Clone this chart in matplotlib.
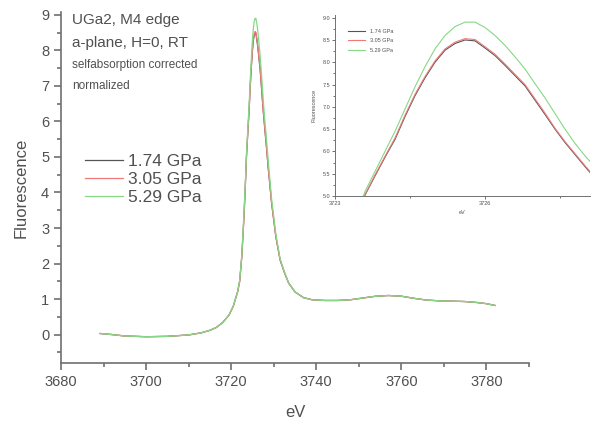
import numpy as np
import matplotlib
matplotlib.use("Agg")
import matplotlib.pyplot as plt
from matplotlib.ticker import MultipleLocator

plt.rcParams['font.family'] = ['Liberation Sans', 'DejaVu Sans']

# energy grid (eV) and fluorescence for the three pressures
energy = [3689.2, 3692, 3695, 3700, 3705, 3710, 3713, 3715, 3716.5, 3718,
          3719.5, 3720.5, 3721.5, 3722.0, 3722.5, 3723.0, 3723.3,
          3723.6, 3723.8, 3724.0, 3724.2, 3724.4, 3724.6, 3724.8, 3725.0, 3725.2, 3725.4,
          3725.6, 3725.8, 3726.0, 3726.2, 3726.4, 3726.6, 3726.8, 3727.0, 3727.2, 3727.4,
          3727.6, 3727.8, 3728.0, 3728.2,
          3728.7, 3729.5, 3730.5, 3731.5, 3732.5, 3733.5, 3735, 3737, 3739, 3742,
          3745, 3748, 3751, 3754, 3757, 3760, 3763, 3766, 3769, 3772,
          3775, 3778, 3780, 3782]
p174 = [0.03, 0.0, -0.04, -0.06, -0.05, -0.01, 0.05, 0.12, 0.2, 0.34,
        0.55, 0.8, 1.2, 1.5, 2.2, 3.3, 4.1,
        5.02, 5.45, 5.87, 6.27, 6.78, 7.25, 7.65, 8.0, 8.27, 8.42,
        8.5, 8.48, 8.32, 8.15, 7.93, 7.7, 7.47, 7.15, 6.83, 6.5,
        6.2, 5.93, 5.66, 5.4,
        4.7, 3.7, 2.75, 2.1, 1.75, 1.45, 1.2, 1.04, 0.98, 0.96,
        0.96, 0.98, 1.03, 1.08, 1.1, 1.08, 1.02, 0.97, 0.95, 0.94,
        0.93, 0.9, 0.87, 0.82]
p305 = [0.03, 0.0, -0.04, -0.06, -0.05, -0.01, 0.05, 0.12, 0.2, 0.34,
        0.55, 0.8, 1.2, 1.5, 2.2, 3.3, 4.1,
        5.03, 5.47, 5.89, 6.3, 6.81, 7.28, 7.68, 8.03, 8.3, 8.45,
        8.53, 8.51, 8.35, 8.18, 7.96, 7.73, 7.5, 7.18, 6.86, 6.52,
        6.22, 5.95, 5.68, 5.42,
        4.72, 3.71, 2.76, 2.1, 1.75, 1.45, 1.2, 1.04, 0.98, 0.96,
        0.96, 0.98, 1.03, 1.08, 1.1, 1.08, 1.02, 0.97, 0.95, 0.94,
        0.93, 0.9, 0.87, 0.82]
p529 = [0.03, 0.0, -0.04, -0.06, -0.05, -0.01, 0.05, 0.12, 0.2, 0.34,
        0.55, 0.8, 1.2, 1.52, 2.25, 3.4, 4.2,
        5.1, 5.55, 6.0, 6.45, 6.95, 7.45, 7.9, 8.3, 8.6, 8.8,
        8.9, 8.9, 8.78, 8.6, 8.38, 8.12, 7.85, 7.52, 7.2, 6.85,
        6.5, 6.18, 5.9, 5.65,
        4.9, 3.82, 2.82, 2.13, 1.77, 1.46, 1.2, 1.04, 0.98, 0.96,
        0.96, 0.98, 1.03, 1.08, 1.1, 1.08, 1.02, 0.97, 0.95, 0.94,
        0.93, 0.9, 0.87, 0.82]
labels = ['1.74 GPa', '3.05 GPa', '5.29 GPa']
colors = ['#555555', '#f07a7a', '#86d886']
series = [p174, p305, p529]

txt = '#505050'
spine = '#707070'

W, H = 598, 423
fig = plt.figure(figsize=(W / 100, H / 100), dpi=100)

def style_axes(ax, fs, tl, tw):
    for s in ['top', 'right']:
        ax.spines[s].set_visible(False)
    for s in ['left', 'bottom']:
        ax.spines[s].set_color(spine)
        ax.spines[s].set_linewidth(tw)
    ax.tick_params(which='major', direction='out', length=tl, width=tw, colors=spine,
                   labelcolor=txt, labelsize=fs)
    ax.tick_params(which='minor', direction='out', length=tl * 0.6, width=tw, colors=spine)

# main axes
ax = fig.add_axes([61 / W, 1 - 363 / H, (529 - 61) / W, (363 - 12) / H])
for y, lab, c in zip(series, labels, colors):
    ax.plot(energy, y, color=c, lw=0.9, label=lab)
ax.set_xlim(3680, 3790)
ax.set_ylim(-0.8, 9.08)
ax.xaxis.set_major_locator(MultipleLocator(20))
ax.xaxis.set_minor_locator(MultipleLocator(10))
ax.yaxis.set_major_locator(MultipleLocator(1))
ax.yaxis.set_minor_locator(MultipleLocator(0.5))
style_axes(ax, 10.5, 5, 1.2)
ax.set_xlabel('eV', fontsize=12, color=txt, labelpad=12)
ax.set_ylabel('Fluorescence', fontsize=12, color=txt, labelpad=9)

ax.legend(loc='upper left', bbox_to_anchor=(85 / W, 1 - 154 / H),
          bbox_transform=fig.transFigure, frameon=False, fontsize=12.5,
          handlelength=2.2, handletextpad=0.3, labelspacing=0.15,
          borderpad=0, borderaxespad=0, labelcolor=txt)

fig.text(72 / W, 1 - 20 / H, 'UGa2, M4 edge', fontsize=11, color=txt, va='center')
fig.text(72 / W, 1 - 43 / H, 'a-plane, H=0, RT', fontsize=11, color=txt, va='center')
fig.text(72 / W, 1 - 65 / H, 'selfabsorption corrected', fontsize=8.5, color=txt, va='center')
fig.text(72 / W, 1 - 86 / H, 'normalized', fontsize=8.5, color=txt, va='center')

# inset zoom on the white line
ins = fig.add_axes([335 / W, 1 - 196 / H, (590 - 335) / W, (196 - 15) / H])
for y, lab, c in zip(series, labels, colors):
    ins.plot(energy, y, color=c, lw=0.8, label=lab)
ins.set_xlim(3723, 3728.1)
ins.set_ylim(5.0, 9.06)
ins.xaxis.set_major_locator(MultipleLocator(3))
ins.xaxis.set_minor_locator(MultipleLocator(1.5))
ins.yaxis.set_major_locator(MultipleLocator(0.5))
ins.yaxis.set_minor_locator(MultipleLocator(0.25))
style_axes(ins, 4, 2, 0.7)
ins.tick_params(pad=1.5)
ins.set_xlabel('eV', fontsize=4, color=txt, labelpad=3)
ins.set_ylabel('Fluorescence', fontsize=4, color=txt, labelpad=4)
ins.legend(loc='upper left', bbox_to_anchor=(348 / W, 1 - 29 / H),
           bbox_transform=fig.transFigure, frameon=False, fontsize=4,
           handlelength=3, handletextpad=0.9, labelspacing=0.8,
           borderpad=0, borderaxespad=0, labelcolor=txt)

fig.savefig('out.png', dpi=100)
